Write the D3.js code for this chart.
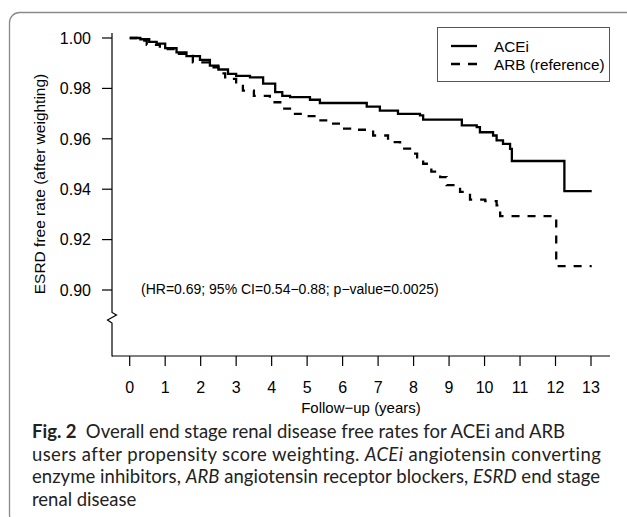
<!DOCTYPE html>
<html>
<head>
<meta charset="utf-8">
<script src="https://cdn.jsdelivr.net/npm/d3@7"></script>
<style>
  html, body { margin: 0; padding: 0; background: #fff; }
  svg { display: block; }
</style>
</head>
<body>
<svg id="chart" width="627" height="517"></svg>
<script>
// ---- data ----
const xTicks = [0,1,2,3,4,5,6,7,8,9,10,11,12,13];
const yTicks = [0.90,0.92,0.94,0.96,0.98,1.00];
const yTickLabels = ["0.90","0.92","0.94","0.96","0.98","1.00"];
const endTime = 13.02;

const aceiTime  = [0,0.3,0.55,0.76,1.0,1.32,1.6,1.98,2.26,2.5,2.77,3.0,3.39,3.76,4.1,4.3,4.52,5.08,5.36,6.68,7.05,7.56,8.18,8.27,9.36,9.78,9.87,10.24,10.34,10.52,10.72,10.77,12.25];
const aceiValue = [1.000,0.9995,0.9985,0.9978,0.996,0.9943,0.9928,0.9913,0.989,0.9875,0.9858,0.985,0.9844,0.9819,0.9785,0.977,0.9765,0.9755,0.9742,0.9728,0.9712,0.9699,0.9693,0.9676,0.9653,0.9646,0.9626,0.9613,0.9594,0.958,0.956,0.9512,0.9392];

const arbTime  = [0,0.2,0.48,0.85,1.32,1.78,2.26,2.5,2.69,3.0,3.19,3.5,3.95,4.3,4.6,5.0,5.27,5.65,6.01,6.21,6.86,7.28,7.62,7.9,8.1,8.27,8.5,8.75,8.93,9.31,9.59,10.02,10.34,10.44,12.02];
const arbValue = [1.000,0.999,0.9973,0.9956,0.9937,0.9903,0.9884,0.986,0.9838,0.981,0.9791,0.977,0.9745,0.972,0.9699,0.969,0.9673,0.966,0.964,0.9636,0.9613,0.9587,0.9561,0.9541,0.952,0.9501,0.947,0.9448,0.9416,0.9389,0.9359,0.9353,0.9336,0.9293,0.9095];

const seriesNames = ["ACEi", "ARB (reference)"];
const annotation = "(HR=0.69; 95% CI=0.54\u22120.88; p\u2212value=0.0025)";
const xLabel = "Follow\u2212up (years)";
const yLabel = "ESRD free rate (after weighting)";

// ---- drawing ----
const svg = d3.select("#chart");
const axisFont = "Liberation Sans, Arial, sans-serif";

svg.append("rect").attr("width", 627).attr("height", 517).attr("fill", "#fff");

// outer rounded frame
svg.append("rect")
  .attr("x", 9.5).attr("y", 12.5).attr("width", 700).attr("height", 512)
  .attr("rx", 10).attr("ry", 10)
  .attr("fill", "none").attr("stroke", "#8a8a8a").attr("stroke-width", 1.3);

const x = d3.scaleLinear().domain([0, 13]).range([129.7, 591]);
const y = d3.scaleLinear().domain([0.90, 1.00]).range([290, 38]);

const axisX0 = 112, axisY0 = 356;

// y axis with break
const g = svg.append("g").attr("fill", "none").attr("stroke", "#000").attr("stroke-width", 1.2);
g.append("path").attr("d",
  `M${axisX0},33 L${axisX0},312.5 L${axisX0+4.5},315 L${axisX0-4.5},320 L${axisX0},323 L${axisX0},${axisY0+0.6}`);
// x axis
g.append("line").attr("x1", axisX0).attr("x2", 610).attr("y1", axisY0).attr("y2", axisY0);

// y ticks
yTicks.forEach((v, i) => {
  svg.append("line").attr("x1", axisX0 - 10).attr("x2", axisX0)
    .attr("y1", y(v)).attr("y2", y(v)).attr("stroke", "#000").attr("stroke-width", 1.2);
  svg.append("text").attr("x", 91).attr("y", y(v))
    .attr("dy", "0.36em").attr("text-anchor", "end")
    .attr("font-family", axisFont).attr("font-size", 16).attr("fill", "#000")
    .text(yTickLabels[i]);
});

// x ticks
xTicks.forEach(t => {
  svg.append("line").attr("x1", x(t)).attr("x2", x(t))
    .attr("y1", axisY0).attr("y2", axisY0 + 10).attr("stroke", "#000").attr("stroke-width", 1.2);
  svg.append("text").attr("x", x(t)).attr("y", 387)
    .attr("dy", "0.36em").attr("text-anchor", "middle")
    .attr("font-family", axisFont).attr("font-size", 16).attr("fill", "#000")
    .text(t);
});

// axis titles
svg.append("text").attr("x", 361).attr("y", 408).attr("dy", "0.36em")
  .attr("text-anchor", "middle").attr("font-family", axisFont).attr("font-size", 15)
  .text(xLabel);
svg.append("text").attr("transform", "translate(45,184) rotate(-90)")
  .attr("text-anchor", "middle").attr("font-family", axisFont).attr("font-size", 15.5)
  .text(yLabel);

// curves
function steps(times, values) {
  const pts = times.map((t, i) => [t, values[i]]);
  pts.push([endTime, values[values.length - 1]]);
  return pts;
}
const line = d3.line().x(d => x(d[0])).y(d => y(d[1])).curve(d3.curveStepAfter);

svg.append("path").datum(steps(arbTime, arbValue))
  .attr("d", line).attr("fill", "none").attr("stroke", "#000")
  .attr("stroke-width", 2.3).attr("stroke-dasharray", "8,8");
svg.append("path").datum(steps(aceiTime, aceiValue))
  .attr("d", line).attr("fill", "none").attr("stroke", "#000")
  .attr("stroke-width", 2.3);

// annotation
svg.append("text").attr("x", 141).attr("y", 289).attr("dy", "0.36em")
  .attr("font-family", axisFont).attr("font-size", 14).text(annotation);

// legend
const lg = svg.append("g");
lg.append("rect").attr("x", 437.5).attr("y", 27.5).attr("width", 172).attr("height", 54)
  .attr("fill", "#fff").attr("stroke", "#555").attr("stroke-width", 1);
[[46, null], [64, "9,8"]].forEach((d, i) => {
  const ln = lg.append("line").attr("x1", 451).attr("x2", 477).attr("y1", d[0]).attr("y2", d[0])
    .attr("stroke", "#000").attr("stroke-width", 2.3);
  if (d[1]) ln.attr("stroke-dasharray", d[1]);
  lg.append("text").attr("x", 494).attr("y", d[0]).attr("dy", "0.36em")
    .attr("font-family", axisFont).attr("font-size", 15.3).text(seriesNames[i]);
});

// caption
const capFont = "Lato, 'Noto Sans', sans-serif";
const capX = 32;
const capRight = [565, 601, 600, null];
const capLines = [
  [["Fig. 2", "bold", "normal"], ["\u2002Overall end stage renal disease free rates for ACEi and ARB", "normal", "normal"]],
  [["users after propensity score weighting. ", "normal", "normal"], ["ACEi", "normal", "italic"], [" angiotensin converting", "normal", "normal"]],
  [["enzyme inhibitors, ", "normal", "normal"], ["ARB", "normal", "italic"], [" angiotensin receptor blockers, ", "normal", "normal"], ["ESRD", "normal", "italic"], [" end stage", "normal", "normal"]],
  [["renal disease", "normal", "normal"]]
];
capLines.forEach((parts, i) => {
  const t = svg.append("text").attr("x", capX).attr("y", 438 + i * 22.7)
    .attr("font-family", capFont).attr("font-size", 18.5).attr("fill", "#222");
  parts.forEach(p => {
    t.append("tspan").attr("font-weight", p[1]).attr("font-style", p[2]).text(p[0]);
  });
  if (capRight[i]) {
    const n = parts.reduce((s, p) => s + p[0].length, 0);
    const w = t.node().getComputedTextLength();
    const ls = (capRight[i] - capX - w) / (n - 1);
    t.attr("letter-spacing", ls.toFixed(3));
  }
});
</script>
</body>
</html>
